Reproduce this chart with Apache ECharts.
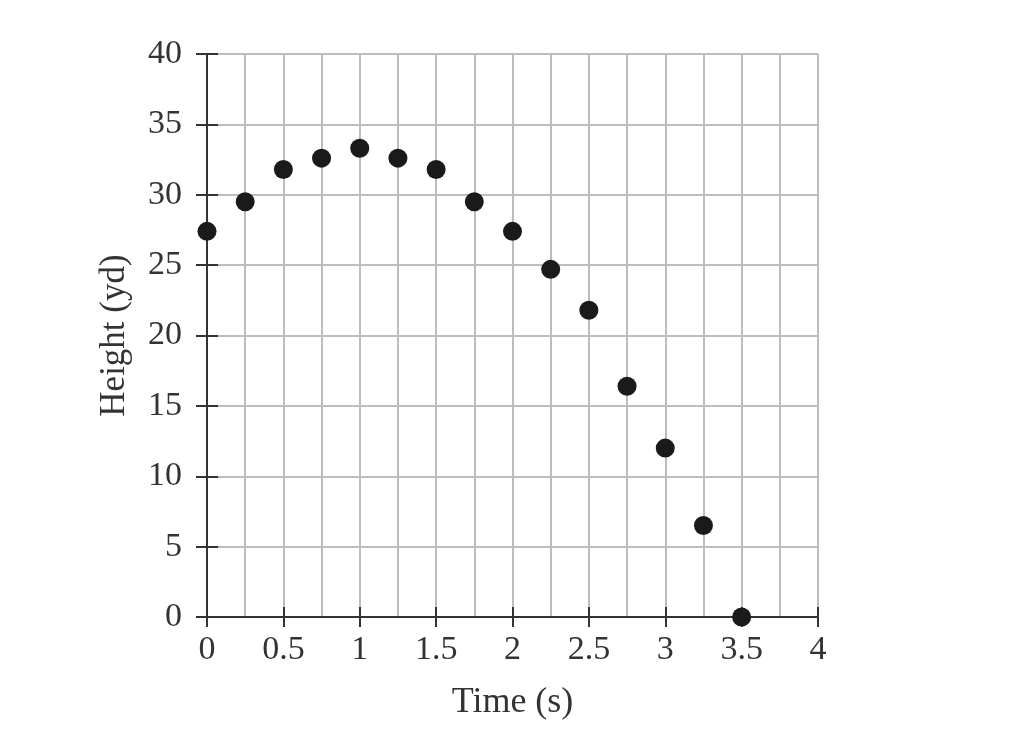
<!DOCTYPE html>
<html>
<head>
    <meta charset="utf-8">
    <title>Height vs Time</title>
    <script src="https://cdn.jsdelivr.net/npm/echarts@6/dist/echarts.min.js"></script>
    <style>
        html, body { margin: 0; padding: 0; background: #fff; }
        #chart { width: 1012px; height: 734px; }
    </style>
</head>
<body>
<div id="chart"></div>
<script type="text/javascript">
    // time (s) and height (yd)
    var times = [0, 0.25, 0.5, 0.75, 1, 1.25, 1.5, 1.75, 2, 2.25, 2.5, 2.75, 3, 3.25, 3.5];
    var heights = [27.4, 29.5, 31.8, 32.6, 33.3, 32.6, 31.8, 29.5, 27.4, 24.7, 21.8, 16.4, 12.0, 6.5, 0];

    var font = 'Liberation Serif';
    var axisColor = '#333';
    var gridColor = '#bdbdbd';

    var points = times.map(function (t, i) { return [t, heights[i]]; });

    var myChart = echarts.init(document.getElementById('chart'));

    myChart.setOption({
        backgroundColor: '#fff',
        animation: false,
        grid: { left: 207, right: 194, top: 54, bottom: 117 },
        xAxis: [
            {
                type: 'value', min: 0, max: 4, interval: 0.5,
                name: 'Time (s)', nameLocation: 'middle', nameGap: 68,
                nameTextStyle: { fontFamily: font, fontSize: 36, color: axisColor },
                axisLine: { onZero: false, lineStyle: { color: axisColor, width: 2 } },
                axisTick: { length: 10, lineStyle: { color: axisColor, width: 2 } },
                axisLabel: { fontFamily: font, fontSize: 34, color: axisColor, margin: 16 },
                splitLine: { show: true, lineStyle: { color: gridColor, width: 2 } },
                minorTick: { show: false, splitNumber: 2 },
                minorSplitLine: { show: true, lineStyle: { color: gridColor, width: 2 } }
            },
            {
                // inner half of the crossing ticks
                type: 'value', min: 0, max: 4, interval: 0.5, position: 'bottom',
                axisLine: { show: false, onZero: false },
                axisTick: { inside: true, length: 10, lineStyle: { color: axisColor, width: 2 } },
                axisLabel: { show: false },
                splitLine: { show: false }
            }
        ],
        yAxis: [
            {
                type: 'value', min: 0, max: 40, interval: 5,
                name: 'Height (yd)', nameLocation: 'middle', nameGap: 75, nameRotate: 90,
                nameTextStyle: { fontFamily: font, fontSize: 35, color: axisColor },
                axisLine: { show: true, onZero: false, lineStyle: { color: axisColor, width: 2 } },
                axisTick: { show: true, length: 11, lineStyle: { color: axisColor, width: 2 } },
                axisLabel: { fontFamily: font, fontSize: 34, color: axisColor, margin: 25 },
                splitLine: { show: true, lineStyle: { color: gridColor, width: 2 } }
            },
            {
                type: 'value', min: 0, max: 40, interval: 5, position: 'left',
                axisLine: { show: false, onZero: false },
                axisTick: { show: true, inside: true, length: 11, lineStyle: { color: axisColor, width: 2 } },
                axisLabel: { show: false },
                splitLine: { show: false }
            }
        ],
        series: [{
            name: 'Height',
            type: 'scatter',
            xAxisIndex: 0,
            yAxisIndex: 0,
            symbolSize: 19,
            itemStyle: { color: '#1a1a1a', opacity: 1 },
            data: points
        }]
    });
</script>
</body>
</html>
